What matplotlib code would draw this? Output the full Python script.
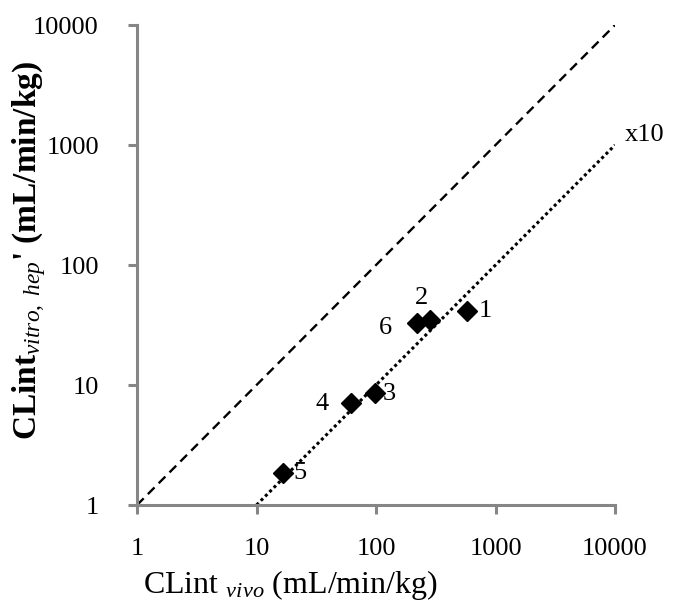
import matplotlib
matplotlib.use("Agg")
import matplotlib.pyplot as plt
from matplotlib.ticker import FixedLocator, FixedFormatter, NullLocator

plt.rcParams['font.family'] = 'Liberation Serif'
plt.rcParams['mathtext.fontset'] = 'custom'
plt.rcParams['mathtext.rm'] = 'Liberation Serif'
plt.rcParams['mathtext.it'] = 'Liberation Serif:italic'
plt.rcParams['mathtext.bf'] = 'Liberation Serif:bold'

# compound data: in vivo vs scaled in vitro intrinsic clearance
compounds = ["1", "2", "3", "4", "5", "6"]
cl_vivo = [578, 283, 98, 62, 16.7, 220]
cl_vitro = [41, 35, 8.6, 7.1, 1.85, 33]

# unity line and 10-fold underprediction line
unity_x = [1, 10000]
unity_y = [1, 10000]
tenfold_x = [10, 10000]
tenfold_y = [1, 1000]

ticks = [1, 10, 100, 1000, 10000]
tick_labels = ["1", "10", "100", "1000", "10000"]

# label offsets in points for each compound number
offsets = {"1": (13, 0), "2": (-6, 16), "3": (10, -1), "4": (-21, -1),
           "5": (12, 0), "6": (-23, -4)}

fig = plt.figure(figsize=(6.76, 6.10), dpi=100)
ax = fig.add_axes([0.2027, 0.1721, 0.7071, 0.7869])

ax.plot(unity_x, unity_y, color="black", linestyle=(0, (4, 2.5)), linewidth=1.7)
ax.plot(tenfold_x, tenfold_y, color="black", linestyle=(0, (1, 1)), linewidth=2.2)
ax.plot(cl_vivo, cl_vitro, linestyle="none", marker="D", markersize=10,
        color="black")

for name, xv, yv in zip(compounds, cl_vivo, cl_vitro):
    ax.annotate(name, (xv, yv), xytext=offsets[name], textcoords="offset points",
                fontsize=19, ha="center", va="center")

ax.text(12100, 1210, "x10", fontsize=19, va="center", ha="left")

ax.set_xscale("log")
ax.set_yscale("log")
ax.set_xlim(1, 10000)
ax.set_ylim(1, 10000)
ax.xaxis.set_major_locator(FixedLocator(ticks))
ax.yaxis.set_major_locator(FixedLocator(ticks))
ax.xaxis.set_major_formatter(FixedFormatter(tick_labels))
ax.yaxis.set_major_formatter(FixedFormatter(tick_labels))
ax.xaxis.set_minor_locator(NullLocator())
ax.yaxis.set_minor_locator(NullLocator())

for side in ["top", "right"]:
    ax.spines[side].set_visible(False)
for side in ["left", "bottom"]:
    ax.spines[side].set_color("#868686")
    ax.spines[side].set_linewidth(2.2)
ax.tick_params(axis="both", direction="out", length=6.5, width=2.2,
               color="#868686", labelsize=19)
ax.tick_params(axis="x", pad=17)
ax.tick_params(axis="y", pad=21)

ax.set_xlabel(r"CLint $_{\mathit{vivo}}$ (mL/min/kg)", fontsize=23)
ax.set_ylabel(r"$\mathbf{CLint}_{\mathit{vitro,\ hep}}$' (mL/min/kg)",
              fontsize=24, fontweight="bold")
ax.xaxis.set_label_coords(0.32, -0.167)
ax.xaxis.label.set_va("center")
ax.yaxis.set_label_coords(-0.225, 0.531)
ax.yaxis.label.set_va("center")

fig.savefig("out.png", dpi=100)
